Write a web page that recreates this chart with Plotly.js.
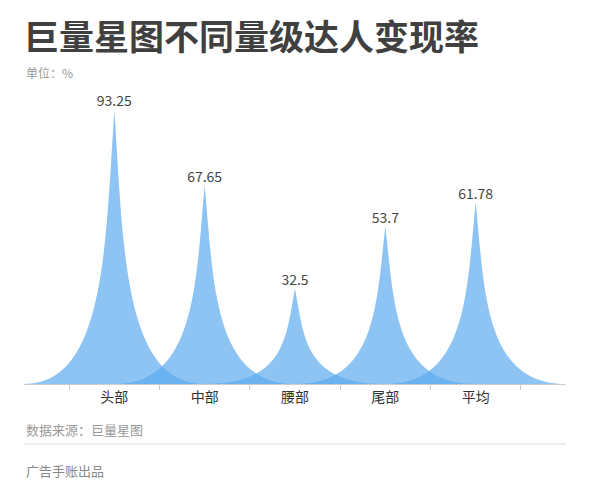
<!DOCTYPE html>
<html>
<head>
<meta charset="utf-8">
<script src="https://cdn.plot.ly/plotly-3.0.1.min.js"></script>
<style>
  html, body { margin: 0; padding: 0; background: #fff; }
  #plot { width: 589px; height: 500px; }
</style>
</head>
<body>
<div id="plot"></div>
<script>
const categories = ['头部', '中部', '腰部', '尾部', '平均'];
const rates = [93.25, 67.65, 32.5, 53.7, 61.78];
const rateLabels = ['93.25', '67.65', '32.5', '53.7', '61.78'];

const FONT = '"Noto Sans CJK SC", "Noto Sans", sans-serif';
const spikeColor = 'rgb(92,171,239)';

// x 轴用类目序号，每个尖角占左右各一个类目宽度
const positions = categories.map((c, i) => i);

// 尖角形状：底边宽 2 个类目，两侧向内凹的贝塞尔曲线
const spikes = rates.map((v, i) => ({
    type: 'path',
    xref: 'x', yref: 'y',
    path: `M ${i - 1},0 L ${i + 1},0 C ${i + 0.1},0 ${i + 0.1},${v / 2} ${i},${v} ` +
          `C ${i - 0.1},${v / 2} ${i - 0.1},0 ${i - 1},0 Z`,
    fillcolor: spikeColor,
    opacity: 0.7,
    line: { width: 0 },
    layer: 'below'
}));

const labelTrace = {
    x: positions,
    y: rates,
    type: 'scatter',
    mode: 'text',
    text: rateLabels,
    textposition: 'top center',
    textfont: { family: FONT, size: 14, color: '#444' },
    cliponaxis: false,
    hoverinfo: 'skip'
};

const layout = {
    width: 589,
    height: 500,
    paper_bgcolor: '#fff',
    plot_bgcolor: 'rgba(0,0,0,0)',
    margin: { t: 90, r: 23, b: 116, l: 24 },
    showlegend: false,
    font: { family: FONT },
    title: {
        text: '<b>巨量星图不同量级达人变现率</b>',
        font: { family: FONT, size: 35, color: '#404040' },
        xref: 'container', x: 24 / 589, xanchor: 'left',
        yref: 'container', y: 1 - 38 / 500, yanchor: 'middle'
    },
    xaxis: {
        type: 'linear',
        range: [-1, categories.length],
        tickmode: 'array',
        tickvals: positions,
        ticktext: categories,
        ticks: '',
        showgrid: false,
        zeroline: false,
        showline: true,
        linecolor: '#cccccc',
        linewidth: 1,
        tickfont: { family: FONT, size: 14, color: '#333' },
        minor: { tick0: -0.5, dtick: 1, ticks: 'outside', ticklen: 5, tickcolor: '#cccccc', showgrid: false },
        fixedrange: true
    },
    yaxis: {
        range: [0, 100],
        visible: false,
        showgrid: false,
        zeroline: false,
        fixedrange: true
    },
    shapes: [
        ...spikes,
        {
            type: 'line', xref: 'paper', yref: 'paper',
            x0: 0, x1: 1, y0: -0.204, y1: -0.204,
            line: { color: '#dddddd', width: 1 }
        }
    ],
    annotations: [
        {
            text: '单位：%', xref: 'paper', yref: 'paper', x: 0, y: 1.058,
            xanchor: 'left', yanchor: 'middle', showarrow: false,
            font: { family: FONT, size: 12, color: '#999' }
        },
        {
            text: '数据来源：巨量星图', xref: 'paper', yref: 'paper', x: 0, y: -0.156,
            xanchor: 'left', yanchor: 'middle', showarrow: false,
            font: { family: FONT, size: 13, color: '#999' }
        },
        {
            text: '广告手账出品', xref: 'paper', yref: 'paper', x: 0, y: -0.293,
            xanchor: 'left', yanchor: 'middle', showarrow: false,
            font: { family: FONT, size: 13, color: '#888' }
        }
    ]
};

Plotly.newPlot('plot', [labelTrace], layout, { displayModeBar: false, staticPlot: true });
</script>
</body>
</html>
